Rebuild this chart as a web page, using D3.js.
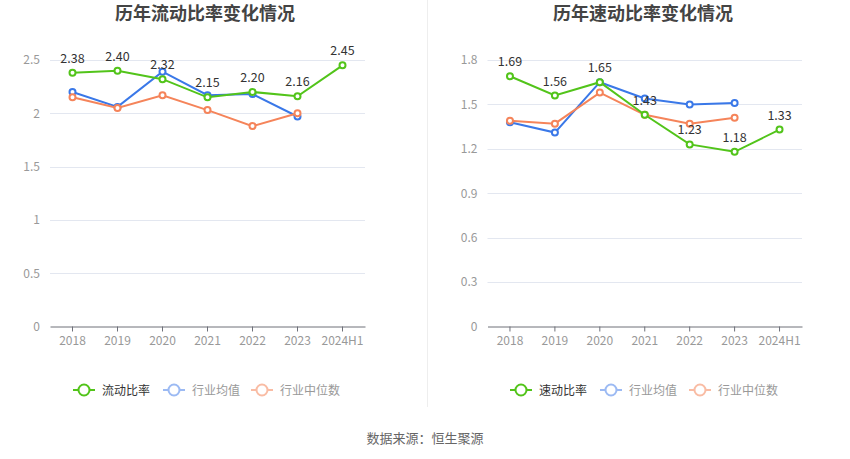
<!DOCTYPE html>
<html><head><meta charset="utf-8">
<script src="https://cdn.jsdelivr.net/npm/d3@7"></script>
<style>
body{margin:0;background:#fff;font-family:"Noto Sans CJK SC","Noto Sans",sans-serif;}
svg text{font-family:"Noto Sans CJK SC","Noto Sans",sans-serif;}
</style></head>
<body><svg id="c" width="850" height="459"></svg>
<script>
const categories = ["2018","2019","2020","2021","2022","2023","2024H1"];
const currentRatio = [2.38,2.40,2.32,2.15,2.20,2.16,2.45];
const currentIndAvg = [2.20,2.06,2.39,2.17,2.18,1.97];
const currentIndMed = [2.15,2.05,2.17,2.03,1.88,2.00];
const quickRatio = [1.69,1.56,1.65,1.43,1.23,1.18,1.33];
const quickIndAvg = [1.38,1.31,1.65,1.54,1.50,1.51];
const quickIndMed = [1.39,1.37,1.58,1.43,1.37,1.41];
const currentTicks = [0,0.5,1,1.5,2,2.5];
const quickTicks = [0,0.3,0.6,0.9,1.2,1.5,1.8];

const GREEN="#52c41a", BLUE="#3a78e8", ORANGE="#f5845a";
const svg=d3.select("#c");

// divider
svg.append("line").attr("x1",427.5).attr("x2",427.5).attr("y1",0).attr("y2",407)
  .attr("stroke","#eeeeee").attr("stroke-width",1);

function chart(o){
  const g=svg.append("g");
  const x=d3.scaleBand().domain(categories).range([o.x0,o.x1]);
  const y=d3.scaleLinear().domain([0,o.max]).range([326.5,60]);
  g.append("text").attr("x",o.cx).attr("y",20).attr("text-anchor","middle")
    .attr("font-size",18).attr("font-weight","bold").attr("fill","#444").text(o.title);
  // grid
  g.selectAll(".grid").data(o.ticks.filter(t=>t>0)).join("line")
    .attr("x1",o.x0).attr("x2",o.x1).attr("y1",d=>Math.round(y(d))+0.5).attr("y2",d=>Math.round(y(d))+0.5)
    .attr("stroke","#e3e7f0");
  const ya=d3.axisLeft(y).tickValues(o.ticks).tickSize(0).tickPadding(10).tickFormat(d=>d);
  const yg=g.append("g").attr("transform",`translate(${o.x0},0)`).call(ya);
  yg.select(".domain").remove();
  yg.selectAll("text").attr("fill","#999").attr("font-size",12);
  const xa=d3.axisBottom(x).tickSize(0).tickPadding(10);
  const xg=g.append("g").attr("transform","translate(0,326.5)").call(xa);
  xg.select(".domain").attr("stroke","#6e7079");
  xg.selectAll("text").attr("fill","#999").attr("font-size",12);
  xg.selectAll(".tick").append("line").attr("y2",5).attr("stroke","#6e7079");
  const cxp=d=>x(d)+x.bandwidth()/2;
  const series=[[o.avg,BLUE],[o.med,ORANGE],[o.main,GREEN]];
  series.forEach(([vals,col])=>{
    const pts=vals.map((v,i)=>[cxp(categories[i]),y(v)]);
    g.append("path").attr("d",d3.line()(pts)).attr("fill","none").attr("stroke",col).attr("stroke-width",2);
    g.selectAll(null).data(pts).join("circle").attr("cx",d=>d[0]).attr("cy",d=>d[1]).attr("r",3)
      .attr("fill","#fff").attr("stroke",col).attr("stroke-width",2);
  });
  g.selectAll(null).data(o.main).join("text")
    .attr("x",(d,i)=>cxp(categories[i])).attr("y",d=>y(d)-10).attr("text-anchor","middle")
    .attr("font-size",12.5).attr("fill","#333").text(d=>d.toFixed(2));
  // legend
  const items=[[o.name,GREEN,"#333",o.lx[0]],["行业均值","#9cbaf3","#999",o.lx[1]],["行业中位数","#f9bca4","#999",o.lx[2]]];
  items.forEach(([t,col,tc,lx])=>{
    const lg=g.append("g").attr("transform",`translate(${lx},390)`);
    lg.append("line").attr("x1",0).attr("x2",22).attr("stroke",col).attr("stroke-width",2);
    lg.append("circle").attr("cx",11).attr("r",5.5).attr("fill","#fff").attr("stroke",col).attr("stroke-width",2);
    lg.append("text").attr("x",29).attr("y",4.5).attr("font-size",12).attr("fill",tc).text(t);
  });
}
chart({title:"历年流动比率变化情况",cx:205,x0:50,x1:365,max:2.5,ticks:currentTicks,
  main:currentRatio,avg:currentIndAvg,med:currentIndMed,name:"流动比率",lx:[73,163,251]});
chart({title:"历年速动比率变化情况",cx:643,x0:487.5,x1:802,max:1.8,ticks:quickTicks,
  main:quickRatio,avg:quickIndAvg,med:quickIndMed,name:"速动比率",lx:[510,600,689]});
svg.append("text").attr("x",425).attr("y",443).attr("text-anchor","middle").attr("font-size",13)
  .attr("fill","#666").text("数据来源：恒生聚源");
</script></body></html>
